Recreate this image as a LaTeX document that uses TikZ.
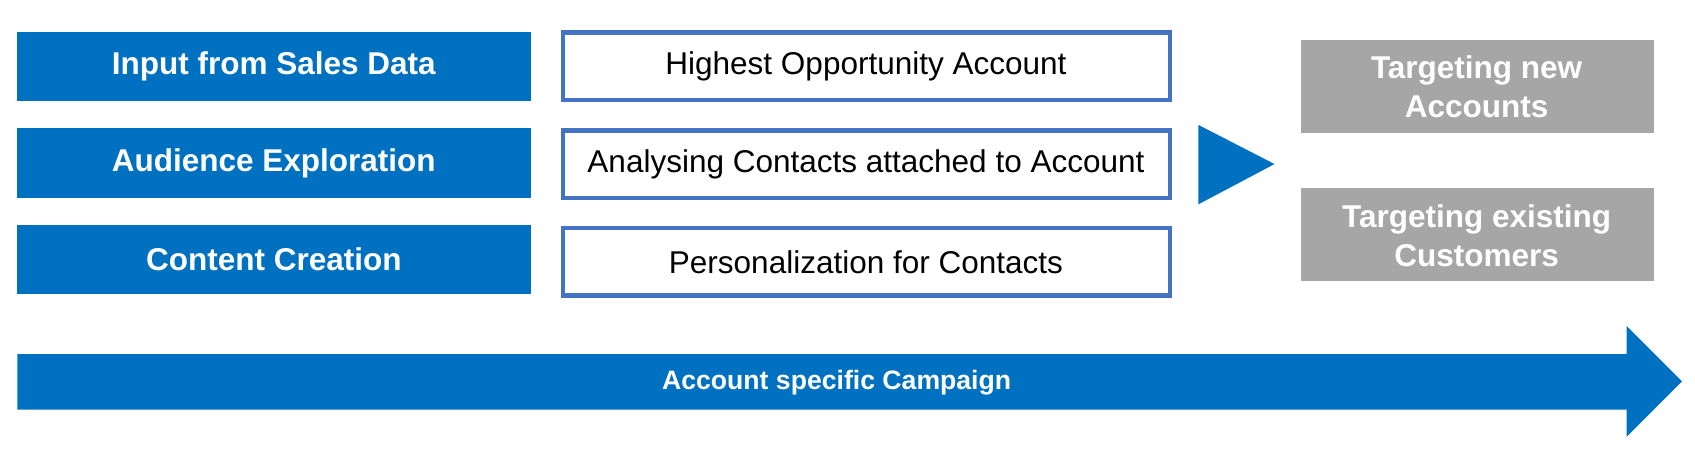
\documentclass[tikz,border=0pt]{standalone}
\usepackage{fontspec}
\setmainfont{Liberation Sans}
\definecolor{mblue}{HTML}{0070C0}
\definecolor{bord}{HTML}{4472C4}
\definecolor{mgray}{HTML}{A6A6A6}
\begin{document}
\begin{tikzpicture}[x=1pt,y=-1pt,
  gbox/.style={text=white,font=\fontsize{29}{36}\selectfont\bfseries,align=center}]
\useasboundingbox (0,0) rectangle (1560,414);
\foreach \n/\y/\t in {a/29/Input from Sales Data,b/118/Audience Exploration,c/207/Content Creation}{
  \fill[mblue] (16,\y) rectangle (489,\y+64);
  \node[text=white,font=\fontsize{29}{34}\selectfont\bfseries] (l\n) at (252,\y+32) {\t};}
\foreach \n/\y/\t in {a/30/Highest Opportunity Account,b/120/Analysing Contacts attached to Account,c/210/Personalization for Contacts}{
  \draw[draw=bord,line width=4pt,fill=white] (518,\y) rectangle (1077,\y+62);
  \node[font=\fontsize{29}{34}\selectfont] (m\n) at (797,\y+31) {\t};}
\fill[mblue] (1103,115) -- (1173,151) -- (1103,188) -- cycle;
\fill[mgray] (1197,37) rectangle (1522,122);
\node[gbox] (g1) at (1359,80) {Targeting new\\Accounts};
\fill[mgray] (1197,173) rectangle (1522,259);
\node[gbox] (g2) at (1359,217) {Targeting existing\\Customers};
\fill[mblue] (16,326) -- (1497,326) -- (1497,300) -- (1548,351) -- (1497,402) -- (1497,377) -- (16,377) -- cycle;
\node[text=white,font=\fontsize{24.5}{28}\selectfont\bfseries] (camp) at (770,352) {Account specific Campaign};
\end{tikzpicture}
\end{document}
